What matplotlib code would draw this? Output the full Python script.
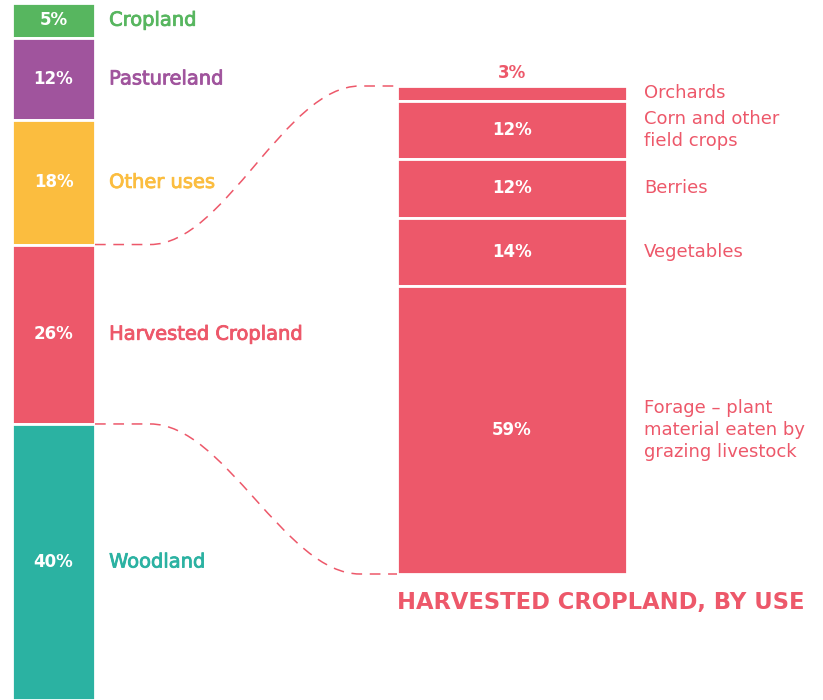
import matplotlib.pyplot as plt
from matplotlib.path import Path
import matplotlib.patches as patches
import matplotlib.patheffects as pe
import numpy as np

# land use, all land (top to bottom)
land_labels = ["Cropland", "Pastureland", "Other uses", "Harvested Cropland", "Woodland"]
land_values = [5, 12, 18, 26, 40]
land_colors = ["#57b65f", "#a0549d", "#fbbd3f", "#ed586a", "#2bb2a2"]

# harvested cropland, by use (top to bottom)
use_labels = ["Orchards", "Corn and other\nfield crops", "Berries", "Vegetables",
              "Forage \u2013 plant\nmaterial eaten by\ngrazing livestock"]
use_values = [3, 12, 12, 14, 59]

RED = "#ed586a"
FONT = "DejaVu Sans"
W, H = 823, 700

fig = plt.figure(figsize=(W / 100, H / 100), dpi=100)

# background axes in pixel coords for the connectors
bg = fig.add_axes([0, 0, 1, 1])
bg.set_xlim(0, W)
bg.set_ylim(H, 0)
bg.axis('off')

# left bar
axL = fig.add_axes([12 / W, 0, 83 / W, 697 / H])
tot_l = sum(land_values)
bottoms_l = np.concatenate([[0], np.cumsum(land_values)[:-1]])
axL.bar(0.5, land_values, bottom=bottoms_l, width=1, color=land_colors,
        edgecolor='white', linewidth=2)
axL.set_xlim(0, 1)
axL.set_ylim(tot_l, 0)
axL.axis('off')
for lab, v, b, c in zip(land_labels, land_values, bottoms_l, land_colors):
    yc = b + v / 2
    axL.text(0.5, yc, f"{v}%", ha='center', va='center', color='white',
             fontsize=12, fontweight='bold', family=FONT)
    # medium weight look: regular face with a thin stroke
    axL.text(1.17, yc, lab, ha='left', va='center', color=c,
             fontsize=14, family=FONT, clip_on=False,
             path_effects=[pe.withStroke(linewidth=0.6, foreground=c)])

# right bar
axR = fig.add_axes([397 / W, (H - 574) / H, 230 / W, 488 / H])
tot_r = sum(use_values)
bottoms_r = np.concatenate([[0], np.cumsum(use_values)[:-1]])
axR.bar(0.5, use_values, bottom=bottoms_r, width=1, color=RED,
        edgecolor='white', linewidth=2)
axR.set_xlim(0, 1)
axR.set_ylim(tot_r, 0)
axR.axis('off')
for lab, v, b in zip(use_labels, use_values, bottoms_r):
    yc = b + v / 2
    if v < 5:
        axR.annotate(f"{v}%", (0.5, b), xytext=(0, 3), textcoords='offset points',
                     ha='center', va='bottom', color=RED, fontsize=12,
                     fontweight='bold', family=FONT, annotation_clip=False)
    else:
        axR.text(0.5, yc, f"{v}%", ha='center', va='center', color='white',
                 fontsize=12, fontweight='bold', family=FONT)
    axR.text(1.074, yc, lab, ha='left', va='center', color=RED, fontsize=13,
             family=FONT, linespacing=1.27, clip_on=False)

axR.annotate("HARVESTED CROPLAND, BY USE", (0, tot_r), xytext=(0, -12),
             textcoords='offset points', ha='left', va='top', color=RED,
             fontsize=16.3, fontweight='bold', family=FONT, annotation_clip=False)


def to_px(ax, x, y):
    d = ax.transData.transform((x, y))
    return bg.transData.inverted().transform(d)


# dashed connectors from harvested segment to the right bar
hi = land_labels.index("Harvested Cropland")
top_l = to_px(axL, 1, bottoms_l[hi])
bot_l = to_px(axL, 1, bottoms_l[hi] + land_values[hi])
top_r = to_px(axR, 0, 0)
bot_r = to_px(axR, 0, tot_r)

for p0, p1 in [(top_l, top_r), (bot_l, bot_r)]:
    x0, y0 = p0
    x1, y1 = p1
    xa, xb = x0 + 55, x1 - 37
    verts = [(x0, y0), (xa, y0), (xa + 75, y0), (xb - 75, y1), (xb, y1), (x1, y1)]
    codes = [Path.MOVETO, Path.LINETO, Path.CURVE4, Path.CURVE4, Path.CURVE4, Path.LINETO]
    bg.add_patch(patches.PathPatch(Path(verts, codes), fill=False, edgecolor=RED,
                                   linewidth=1.1, linestyle=(0, (7, 5))))

fig.savefig("out.png", dpi=100)
